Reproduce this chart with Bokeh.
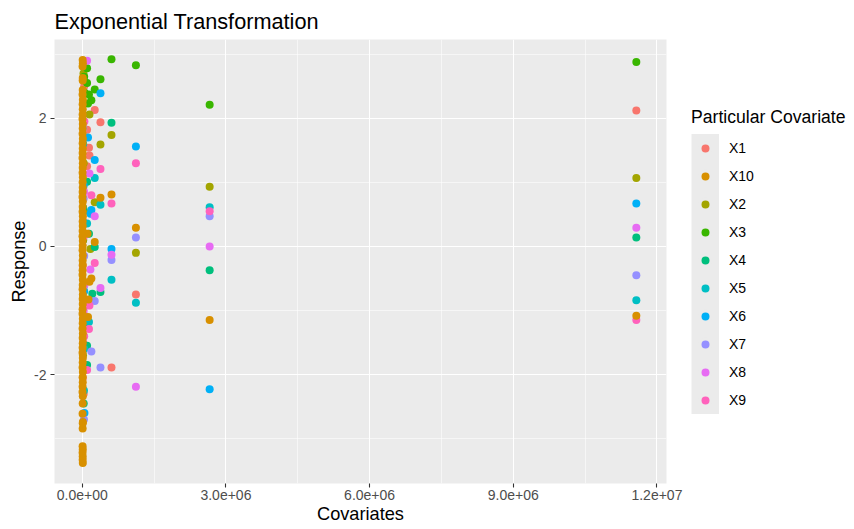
from bokeh.plotting import figure
from bokeh.models import (FixedTicker, Legend, LegendItem, ColumnDataSource, Range1d)
from bokeh.embed import file_html
from bokeh.resources import INLINE

# ---------------- data ----------------
x_ticks = [0, 3000000, 6000000, 9000000, 12000000]
x_tick_labels = ["0.0e+00", "3.0e+06", "6.0e+06", "9.0e+06", "1.2e+07"]
x_minor = [1500000, 4500000, 7500000, 10500000]
y_ticks = [-2, 0, 2]
y_tick_labels = ["-2", "0", "2"]
y_minor = [-3, -1, 1, 3]

legend_order = ["X1", "X10", "X2", "X3", "X4", "X5", "X6", "X7", "X8", "X9"]
draw_order = ["X1", "X2", "X3", "X4", "X5", "X6", "X7", "X8", "X9", "X10"]
series_colors = ["#F8766D", "#D89000", "#A3A500", "#39B600", "#00BF7D",
                 "#00BFC4", "#00B0F6", "#9590FF", "#E76BF3", "#FF62BC"]

X1_cov = [11570000, 610000, 1120000, 380000, 260000, 100000, 140000, 150000, 100000,
          20000, 10000, 30000, 20000, 15000, 40000, 25000, 12000]
X1_resp = [2.12, -1.89, -0.75, 1.94, 2.13, 1.82, 1.54, 1.42, 1.25,
           0.90, -0.30, -2.30, -1.50, 0.40, 2.50, -1.05, -2.05]

X2_cov = [11570000, 2660000, 1120000, 610000, 380000, 150000, 260000, 170000,
          30000, 20000, 40000, 15000, 25000]
X2_resp = [1.07, 0.93, -0.10, 1.74, 1.59, 2.06, 0.69, -0.04,
           1.30, -0.80, 0.55, -1.70, 2.70]

X3_cov = [11570000, 2660000, 1120000, 610000, 380000, 260000, 190000, 140000, 120000,
          100000, 100000, 40000, 30000, 20000, 50000]
X3_resp = [2.88, 2.21, 2.83, 2.92, 2.61, 2.45, 2.28, 2.37, 2.23,
           2.78, 2.55, 2.65, 1.95, 0.10, 2.40]

X4_cov = [11570000, 2660000, 610000, 380000, 260000, 140000, 100000, 210000, 100000,
          100000, 30000, 20000, 40000]
X4_resp = [0.14, -0.37, 1.93, -0.71, -0.01, 0.20, 1.01, -0.74, -1.55,
           -1.85, -2.45, 0.60, -1.25]

X5_cov = [11570000, 2660000, 1120000, 610000, 380000, 260000, 100000, 140000,
          30000, 40000, 20000, 35000]
X5_resp = [-0.84, 0.61, -0.88, -0.52, 0.65, 1.07, 0.36, -1.18,
           -0.62, -1.60, 1.60, -2.25]

X6_cov = [11570000, 2660000, 1120000, 610000, 380000, 260000, 120000, 190000, 170000,
          40000, 30000, 25000, 45000]
X6_resp = [0.67, -2.23, 1.56, -0.04, 2.39, 1.35, 1.70, 0.57, 0.51,
           -0.70, 0.95, -1.40, -2.60]

X7_cov = [11570000, 2660000, 1120000, 610000, 380000, 260000, 190000,
          30000, 40000, 20000, 35000]
X7_resp = [-0.45, 0.47, 0.14, -0.21, -1.89, -0.85, -1.64,
           0.75, -0.15, 1.85, -2.70]

X8_cov = [11570000, 2660000, 1120000, 610000, 380000, 260000, 150000, 170000, 100000,
          40000, 30000, 45000]
X8_resp = [0.29, 0.00, -2.19, -0.13, -0.65, 0.47, 1.14, -0.36, 2.90,
           0.85, -1.00, -0.60]

X9_cov = [11570000, 2660000, 1120000, 610000, 380000, 260000, 190000, 150000, 140000,
          100000, 40000, 30000, 45000]
X9_resp = [-1.15, 0.55, 1.30, 0.67, 1.21, -0.26, 0.80, -0.92, -1.29,
           -1.93, -1.40, 0.15, 1.95]

X10_cov = [11570000, 2660000, 1120000, 610000, 380000, 260000, 190000, 110000, 130000,
           120000, 150000,
           8000, 12000, 6000, 10000, 9000,
           9000, 6000, 12000, 8000, 10000, 7000, 5000, 11000, 9000, 6000, 12000, 8000,
           10000, 7000, 5000, 11000, 9000, 6000, 12000, 8000, 10000, 7000, 5000, 11000,
           9000, 6000, 12000, 8000, 10000, 7000, 5000, 11000, 9000, 6000, 12000, 8000,
           10000, 7000, 5000, 11000, 9000, 6000, 12000, 8000, 10000, 7000, 5000, 11000,
           9000, 6000, 12000, 8000, 10000, 7000, 5000, 11000, 9000, 6000, 12000, 8000,
           10000, 7000, 5000, 11000, 9000, 6000, 12000, 8000, 10000,
           7000, 10000, 6000, 9000, 8000, 11000]
X10_resp = [-1.08, -1.15, 0.29, 0.81, 0.76, 0.07, -0.50, 0.20, -0.83,
            -1.10, -0.55,
            2.91, 2.86, 2.81, 2.63, 2.59,
            2.44, 2.37, 2.29, 2.22, 2.14, 2.06, 1.99, 1.91, 1.84, 1.76, 1.68, 1.61,
            1.53, 1.46, 1.38, 1.30, 1.23, 1.15, 1.08, 1.00, 0.92, 0.85, 0.77, 0.70,
            0.62, 0.54, 0.47, 0.39, 0.32, 0.24, 0.16, 0.09, 0.01, -0.06, -0.14, -0.22,
            -0.29, -0.37, -0.44, -0.52, -0.60, -0.67, -0.75, -0.82, -0.90, -0.98, -1.05, -1.13,
            -1.20, -1.28, -1.36, -1.43, -1.51, -1.58, -1.66, -1.74, -1.81, -1.89, -1.96, -2.04,
            -2.12, -2.19, -2.27, -2.34, -2.45, -2.61, -2.74, -2.84, -2.76,
            -3.12, -3.17, -3.22, -3.28, -3.33, -3.38]

series_data = {
    "X1": (X1_cov, X1_resp), "X2": (X2_cov, X2_resp), "X3": (X3_cov, X3_resp),
    "X4": (X4_cov, X4_resp), "X5": (X5_cov, X5_resp), "X6": (X6_cov, X6_resp),
    "X7": (X7_cov, X7_resp), "X8": (X8_cov, X8_resp), "X9": (X9_cov, X9_resp),
    "X10": (X10_cov, X10_resp),
}
color_of = dict(zip(legend_order, series_colors))

# ---------------- figure ----------------
FONT = "Liberation Sans"
KEY_BG = "#EBEBEB"
p = figure(width=854, height=529, frame_width=612, frame_height=444,
           output_backend="svg", toolbar_location=None,
           x_range=Range1d(-580000, 12200000), y_range=Range1d(-3.70, 3.23),
           min_border_left=54, min_border_right=188, min_border_top=39,
           min_border_bottom=46)

p.title.text = "Exponential Transformation"
p.title.text_font = FONT
p.title.text_font_size = "21.7px"
p.title.text_font_style = "normal"
p.title.text_color = "black"
p.title.align = "left"
p.title.offset = 0
p.title.standoff = 12

p.background_fill_color = KEY_BG
p.border_fill_color = "white"
p.outline_line_color = None

p.xaxis.ticker = FixedTicker(ticks=x_ticks, minor_ticks=x_minor)
p.yaxis.ticker = FixedTicker(ticks=y_ticks, minor_ticks=y_minor)
p.xaxis.major_label_overrides = dict(zip(x_ticks, x_tick_labels))
p.yaxis.major_label_overrides = dict(zip(y_ticks, y_tick_labels))
p.xaxis.axis_label = "Covariates"
p.yaxis.axis_label = "Response"

for ax in (p.xaxis[0], p.yaxis[0]):
    ax.axis_line_color = None
    ax.major_tick_line_color = "#333333"
    ax.major_tick_line_width = 1.1
    ax.major_tick_out = 4
    ax.major_tick_in = 0
    ax.minor_tick_line_color = None
    ax.major_label_text_font = FONT
    ax.major_label_text_font_size = "14px"
    ax.major_label_text_color = "#4D4D4D"
    ax.axis_label_text_font = FONT
    ax.axis_label_text_font_size = "18.2px"
    ax.axis_label_text_font_style = "normal"
    ax.axis_label_text_color = "black"
p.xaxis[0].major_label_standoff = 2
p.xaxis[0].axis_label_standoff = 1
p.yaxis[0].major_label_standoff = 4
p.yaxis[0].axis_label_standoff = 2

for g in (p.xgrid[0], p.ygrid[0]):
    g.grid_line_color = "white"
    g.grid_line_width = 1.1
    g.minor_grid_line_color = "white"
    g.minor_grid_line_width = 0.55

renderers = {}
for name in draw_order:
    xs, ys = series_data[name]
    src = ColumnDataSource(dict(x=xs, y=ys))
    renderers[name] = p.scatter("x", "y", source=src, size=8,
                                fill_color=color_of[name], line_color=None)

# legend-only renderers (no plotted points): grey key background and key dots
nan = float("nan")
key_bg = p.line(x=[nan], y=[nan], line_color=KEY_BG, line_width=30, line_cap="butt")
key_dots = {}
for name in legend_order:
    key_dots[name] = p.scatter(x=[nan], y=[nan], size=11.2, fill_color=color_of[name],
                               line_color=KEY_BG, line_width=3.2)

legend = Legend(items=[LegendItem(label=n, renderers=[key_bg, key_dots[n]]) for n in legend_order],
                location=(25, 69), orientation="vertical",
                title="Particular Covariate", title_text_font=FONT,
                title_text_font_size="17.6px", title_text_font_style="normal",
                title_text_color="black", title_standoff=6,
                label_text_font=FONT, label_text_font_size="14px", label_text_color="black",
                glyph_width=28, glyph_height=28, label_height=28, label_standoff=10,
                spacing=0, padding=0, margin=0,
                border_line_color=None, background_fill_alpha=0)
p.add_layout(legend, "right")

open("out.html", "w").write(file_html(p, INLINE))
